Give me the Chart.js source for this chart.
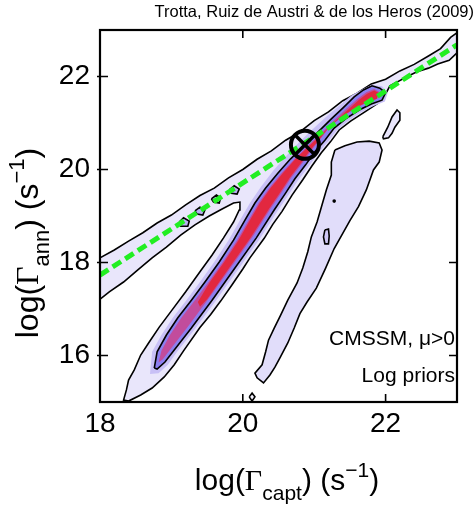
<!DOCTYPE html>
<html>
<head>
<meta charset="utf-8">
<script src="https://cdn.jsdelivr.net/npm/chart.js@4.4.1/dist/chart.umd.min.js"></script>
<style>
  html, body { margin: 0; padding: 0; background: #fff; }
  #chart { display: block; }
</style>
</head>
<body>
<canvas id="chart" width="475" height="508"></canvas>
<script>
// axes
const xTicks = [18, 20, 22];
const yTicks = [16, 18, 20, 22];

// 95% region: upper band + main band (one outline)
const outerRegion = [
  [18.00,18.10],[18.20,18.27],[18.40,18.46],[18.60,18.64],[18.80,18.85],[19.00,19.02],[19.20,19.24],
  [19.40,19.44],[19.60,19.60],[19.80,19.82],[20.00,20.00],[20.20,20.22],[20.40,20.40],[20.60,20.63],
  [20.80,20.81],[21.00,21.05],[21.20,21.24],[21.40,21.48],[21.60,21.64],[21.80,21.84],[22.00,21.94],
  [22.20,22.12],[22.40,22.26],[22.60,22.44],[22.77,22.60],[22.91,22.84],[23.00,22.94],
  [23.00,22.51],[22.89,22.35],[22.73,22.27],[22.60,22.18],[22.44,22.10],[22.29,21.99],[22.16,21.88],
  [22.06,21.80],[22.00,21.62],[21.90,21.43],[21.71,21.24],[21.51,21.04],[21.35,20.85],[21.23,20.60],
  [21.10,20.36],[20.97,20.08],[20.84,19.78],[20.69,19.45],[20.55,19.10],[20.42,18.82],[20.30,18.52],
  [20.10,18.10],[20.00,17.86],[19.85,17.52],[19.69,17.17],[19.55,16.88],[19.40,16.60],[19.17,16.10],
  [19.04,15.80],[18.90,15.54],[18.73,15.30],[18.57,15.15],[18.40,15.02],[18.33,15.04],
  [18.37,15.26],[18.40,15.47],[18.48,15.69],[18.57,16.01],[18.69,16.29],[18.83,16.61],[19.00,16.96],
  [19.20,17.37],[19.40,17.80],[19.57,18.16],[19.73,18.53],[19.87,18.87],[19.95,19.13],[19.96,19.30],
  [19.87,19.28],[19.71,19.15],[19.53,19.00],[19.33,18.81],[19.13,18.59],[18.93,18.33],[18.73,18.10],
  [18.53,17.84],[18.33,17.58],[18.13,17.37],[18.00,17.21],[18.00,18.10]
];

// shading just around the 68% region
const haloRegion = [
  [18.70,15.60],[18.73,16.08],[18.86,16.44],[19.02,16.81],[19.21,17.19],[19.40,17.58],[19.60,18.01],
  [19.80,18.48],[19.96,18.91],[20.10,19.28],[20.25,19.62],[20.42,19.96],[20.60,20.28],[20.80,20.60],
  [21.00,20.90],[21.18,21.15],[21.35,21.37],[21.52,21.59],[21.67,21.72],[21.81,21.82],[21.95,21.79],
  [22.03,21.65],[21.99,21.46],[21.84,21.37],[21.67,21.24],[21.48,21.05],[21.32,20.85],[21.19,20.59],
  [21.05,20.34],[20.92,20.06],[20.77,19.76],[20.63,19.43],[20.48,19.09],[20.23,18.49],[19.93,17.84],
  [19.61,17.15],[19.32,16.55],[19.08,16.08],[18.95,15.80],[18.82,15.62],[18.70,15.60]
];

// 68% region
const innerRegion = [
  [18.76,15.73],[18.80,16.08],[18.93,16.44],[19.09,16.81],[19.28,17.19],[19.47,17.58],[19.67,18.01],
  [19.87,18.48],[20.03,18.91],[20.17,19.28],[20.32,19.60],[20.49,19.92],[20.67,20.23],[20.87,20.53],
  [21.07,20.83],[21.24,21.09],[21.40,21.32],[21.56,21.56],[21.69,21.71],[21.81,21.80],[21.92,21.75],
  [22.00,21.65],[21.95,21.49],[21.80,21.41],[21.63,21.28],[21.44,21.09],[21.28,20.89],[21.15,20.63],
  [21.01,20.38],[20.88,20.10],[20.73,19.80],[20.59,19.47],[20.44,19.13],[20.19,18.53],[19.89,17.88],
  [19.57,17.19],[19.28,16.59],[19.04,16.12],[18.91,15.86],[18.80,15.71],[18.76,15.73]
];

// denser core (purple / red)
const coreRegion = [
  [18.82,15.85],[18.86,16.10],[18.98,16.44],[19.14,16.81],[19.33,17.19],[19.52,17.58],[19.72,18.01],
  [19.92,18.48],[20.08,18.91],[20.22,19.28],[20.37,19.60],[20.54,19.92],[20.72,20.22],[20.92,20.52],
  [21.11,20.80],[21.28,21.06],[21.44,21.29],[21.60,21.51],[21.73,21.66],[21.84,21.73],[21.92,21.66],
  [21.88,21.52],[21.74,21.44],[21.57,21.31],[21.38,21.12],[21.22,20.92],[21.09,20.66],[20.96,20.41],
  [20.83,20.13],[20.68,19.83],[20.54,19.50],[20.39,19.16],[20.14,18.56],[19.84,17.91],[19.52,17.22],
  [19.23,16.62],[19.00,16.16],[18.88,15.92],[18.82,15.85]
];
const peakRegion = [
  [19.37,17.15],[19.54,17.58],[19.74,18.01],[19.94,18.48],[20.10,18.91],[20.24,19.28],[20.39,19.60],
  [20.56,19.92],[20.74,20.23],[20.94,20.52],[21.14,20.81],[21.31,21.06],[21.47,21.28],[21.62,21.49],
  [21.74,21.63],[21.84,21.70],[21.90,21.65],[21.88,21.52],[21.73,21.44],[21.56,21.31],[21.37,21.12],
  [21.21,20.92],[21.08,20.66],[20.94,20.41],[20.81,20.13],[20.66,19.83],[20.52,19.50],[20.37,19.16],
  [20.12,18.56],[19.82,17.91],[19.50,17.21],[19.40,17.05],[19.37,17.15]
];

// small 68% islands along the upper band
const islandsUpper = [
  [[19.11,18.87],[19.17,18.96],[19.25,18.89],[19.23,18.78],[19.13,18.78],[19.11,18.87]],
  [[19.33,19.11],[19.40,19.19],[19.47,19.13],[19.44,19.02],[19.36,19.04],[19.33,19.11]],
  [[19.56,19.37],[19.63,19.45],[19.69,19.39],[19.67,19.28],[19.59,19.30],[19.56,19.37]],
  [[19.81,19.56],[19.88,19.65],[19.95,19.58],[19.92,19.47],[19.84,19.49],[19.81,19.56]]
];

// right branch
const rightBranch = [
  [21.29,20.42],[21.43,20.51],[21.60,20.59],[21.77,20.61],[21.91,20.57],[21.95,20.42],[21.91,20.16],
  [21.83,19.99],[21.73,19.56],[21.62,19.20],[21.50,18.90],[21.39,18.60],[21.28,18.30],[21.16,17.88],
  [21.03,17.45],[20.90,17.15],[20.80,16.90],[20.72,16.59],[20.63,16.27],[20.52,15.95],[20.45,15.75],
  [20.38,15.58],[20.29,15.41],[20.20,15.52],[20.17,15.62],[20.27,15.80],[20.32,16.08],[20.36,16.33],
  [20.44,16.59],[20.53,16.87],[20.63,17.19],[20.76,17.56],[20.84,17.88],[20.91,18.23],[20.96,18.55],
  [21.04,18.87],[21.11,19.24],[21.17,19.56],[21.24,19.88],[21.24,20.16],[21.29,20.42]
];
const rightIsland = [
  [21.96,20.70],[22.03,20.91],[22.09,21.13],[22.16,21.28],[22.20,21.22],[22.20,21.06],[22.13,20.91],
  [22.09,20.78],[22.04,20.68],[21.97,20.66],[21.96,20.70]
];
const rightSmallLoop = [[21.15,18.70],[21.20,18.72],[21.21,18.57],[21.20,18.40],[21.15,18.40],[21.13,18.55],[21.15,18.70]];
const rightDot = [[21.28,19.32]];
const bottomDiamond = [[20.09,15.11],[20.13,15.19],[20.17,15.11],[20.13,15.02],[20.09,15.11]];

// fit line and best fit point
const fitLine = [[18, 17.73], [23, 22.68]];
const bestFit = [[20.87, 20.53]];

const toXY = arr => arr.map(p => ({ x: p[0], y: p[1] }));

function region(points, fillColor, order, border) {
  return {
    data: toXY(points),
    showLine: true,
    fill: 'shape',
    backgroundColor: fillColor,
    borderColor: border ? '#000' : 'rgba(0,0,0,0)',
    borderWidth: border ? 1.6 : 0,
    pointRadius: 0,
    tension: 0,
    order: order
  };
}

const datasets = [
  region(outerRegion, '#e9e6fb', 20, true),
  region(rightBranch, '#e1ddfa', 19, true),
  region(rightIsland, '#e8e5fb', 19, true),
  region(bottomDiamond, '#f4f3fe', 19, true),
  region(haloRegion, '#c8c0f6', 18, false),
  region(innerRegion, '#8c7ff0', 17, true),
  region(coreRegion, '#c24c9c', 16, false),
  region(peakRegion, '#e2283f', 15, false),
  region(rightSmallLoop, '#cfc8f7', 14, true),
  ...islandsUpper.map(isl => region(isl, '#b9aef4', 14, true)),
  {
    data: toXY(rightDot), showLine: false, pointRadius: 1.8,
    pointBackgroundColor: '#000', pointBorderWidth: 0, order: 13
  },
  {
    data: toXY(fitLine), showLine: true, fill: false, borderColor: '#22ee22',
    borderWidth: 5, borderDash: [10, 5], pointRadius: 0, order: 5
  },
  {
    data: toXY(bestFit), showLine: false, pointStyle: 'circle', pointRadius: 14,
    pointBorderWidth: 4, pointBorderColor: '#000', pointBackgroundColor: 'rgba(0,0,0,0)', order: 2
  },
  {
    data: toXY(bestFit), showLine: false, pointStyle: 'crossRot', pointRadius: 14,
    pointBorderWidth: 3.5, pointBorderColor: '#000', order: 1
  }
];

const SANS = '"Liberation Sans", Arial, sans-serif';
const SERIF = '"Liberation Serif", "Times New Roman", serif';

function drawRich(ctx, parts, cx, baseY) {
  let total = 0;
  parts.forEach(p => { ctx.font = p.font; p.w = ctx.measureText(p.t).width; total += p.w; });
  let x = cx - total / 2;
  ctx.textAlign = 'left';
  ctx.textBaseline = 'alphabetic';
  parts.forEach(p => { ctx.font = p.font; ctx.fillText(p.t, x, baseY + (p.dy || 0)); x += p.w; });
}

const framePlugin = {
  id: 'frame',
  afterDraw(chart) {
    const { ctx, chartArea: a, scales } = chart;
    ctx.save();
    ctx.strokeStyle = '#000';
    ctx.lineWidth = 2.2;
    ctx.strokeRect(a.left, a.top, a.right - a.left, a.bottom - a.top);

    // inward ticks, MATLAB style
    ctx.lineWidth = 1.6;
    const tl = 8;
    ctx.beginPath();
    xTicks.forEach(v => {
      const px = scales.x.getPixelForValue(v);
      ctx.moveTo(px, a.bottom); ctx.lineTo(px, a.bottom - tl);
      ctx.moveTo(px, a.top); ctx.lineTo(px, a.top + tl);
    });
    yTicks.forEach(v => {
      const py = scales.y.getPixelForValue(v);
      ctx.moveTo(a.left - 3, py); ctx.lineTo(a.left + tl, py);
      ctx.moveTo(a.right, py); ctx.lineTo(a.right - tl, py);
    });
    ctx.stroke();

    ctx.fillStyle = '#000';
    // source line
    ctx.font = '16.5px ' + SANS;
    ctx.textAlign = 'right';
    ctx.textBaseline = 'alphabetic';
    ctx.fillText('Trotta, Ruiz de Austri & de los Heros (2009)', 474, 17);

    // in-plot labels
    ctx.font = '21px ' + SANS;
    ctx.fillText('CMSSM, \u03bc>0', 455, 345);
    ctx.fillText('Log priors', 455, 382);

    // x title
    drawRich(ctx, [
      { t: 'log(', font: '30px ' + SANS },
      { t: '\u0393', font: '30px ' + SERIF },
      { t: 'capt', font: '21px ' + SANS, dy: 10 },
      { t: ') (s', font: '30px ' + SANS },
      { t: '\u22121', font: '21px ' + SANS, dy: -13 },
      { t: ')', font: '30px ' + SANS }
    ], 287, 490);

    // y title
    ctx.translate(38, 243);
    ctx.rotate(-Math.PI / 2);
    drawRich(ctx, [
      { t: 'log(', font: '32px ' + SANS },
      { t: '\u0393', font: '32px ' + SERIF },
      { t: 'ann', font: '22px ' + SANS, dy: 11 },
      { t: ') (s', font: '32px ' + SANS },
      { t: '\u22121', font: '22px ' + SANS, dy: -14 },
      { t: ')', font: '32px ' + SANS }
    ], 0, 0);
    ctx.restore();
  }
};

const tickFont = { family: SANS, size: 28 };

new Chart(document.getElementById('chart').getContext('2d'), {
  type: 'line',
  data: { datasets: datasets },
  options: {
    responsive: false,
    animation: false,
    events: [],
    layout: { padding: { top: 30, right: 1, left: 0, bottom: 0 } },
    plugins: { legend: { display: false }, tooltip: { enabled: false } },
    scales: {
      x: {
        type: 'linear', min: 18, max: 23,
        grid: { display: false, drawTicks: false },
        border: { display: false },
        ticks: { font: tickFont, color: '#000', padding: 5, maxRotation: 0 },
        afterBuildTicks: s => { s.ticks = xTicks.map(v => ({ value: v })); },
        afterFit: s => { s.height = 106; }
      },
      y: {
        type: 'linear', min: 15, max: 23,
        grid: { display: false, drawTicks: false },
        border: { display: false },
        ticks: { font: tickFont, color: '#000', padding: 10 },
        afterBuildTicks: s => { s.ticks = yTicks.map(v => ({ value: v })); },
        afterFit: s => { s.width = 100; }
      }
    }
  },
  plugins: [framePlugin]
});
</script>
</body>
</html>
